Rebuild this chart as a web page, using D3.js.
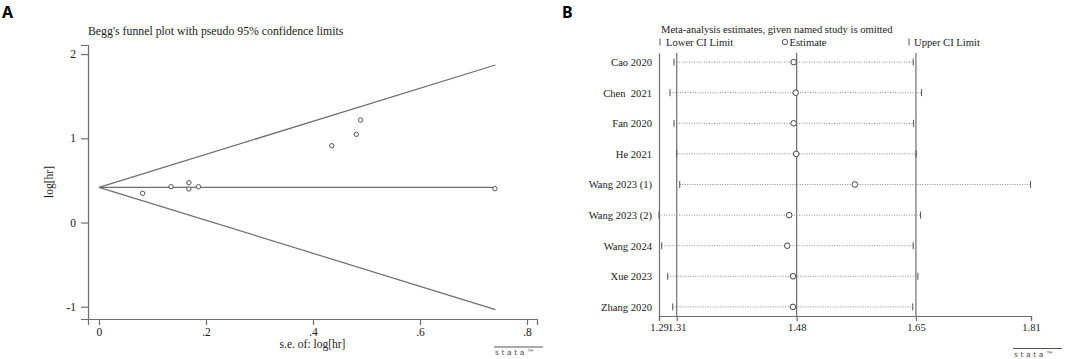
<!DOCTYPE html>
<html>
<head>
<meta charset="utf-8">
<script src="https://d3js.org/d3.v7.min.js"></script>
<style>
  body { margin: 0; background: #fff; }
  svg { display: block; }
  .serif { font-family: "Liberation Serif", "DejaVu Serif", serif; fill: #1a1a1a; }
</style>
</head>
<body>
<div id="chart"></div>
<script>
// ---- panel A: Begg's funnel plot ----
var seA     = [0.0815, 0.1346, 0.168, 0.168, 0.186, 0.435, 0.481, 0.489, 0.740];
var loghrA  = [0.347, 0.425, 0.473, 0.398, 0.425, 0.912, 1.047, 1.217, 0.401];
var funnelSe    = [0, 0.741];
var funnelUpper = [0.418, 1.870];
var funnelLower = [0.418, -1.034];
var funnelMid   = [0.418, 0.418];
var xTicksA = [0, 0.2, 0.4, 0.6, 0.8];
var xTickLabelsA = ["0", ".2", ".4", ".6", ".8"];
var yTicksA = [-1, 0, 1, 2];
var yTickLabelsA = ["-1", "0", "1", "2"];

// ---- panel B: leave-one-out sensitivity ----
var studies   = ["Cao 2020", "Chen  2021", "Fan 2020", "He 2021", "Wang 2023 (1)", "Wang 2023 (2)", "Wang 2024", "Xue 2023", "Zhang 2020"];
var estimates = [1.4784, 1.4812, 1.4784, 1.4820, 1.5641, 1.4722, 1.4694, 1.4774, 1.4774];
var lowerCI   = [1.3110, 1.3054, 1.3110, 1.3148, 1.3190, 1.2900, 1.2938, 1.3022, 1.3092];
var upperCI   = [1.6457, 1.6574, 1.6462, 1.6499, 1.8099, 1.6560, 1.6457, 1.6522, 1.6450];
var refLinesB = [1.3148, 1.4826, 1.6495];
var xTicksB = [1.29, 1.3148, 1.4826, 1.6495, 1.8105];
var xTickLabelsB = ["1.29", "1.31", "1.48", "1.65", "1.81"];

var W = 1065, H = 359;
var lineCol = "#6e6e6e";
var svg = d3.select("#chart").append("svg").attr("width", W).attr("height", H);

function styleAxis(g, size) {
  g.select(".domain").attr("stroke", lineCol).attr("stroke-width", 1.2);
  g.selectAll(".tick line").attr("stroke", lineCol).attr("stroke-width", 1.2);
  g.selectAll(".tick text").attr("class", "serif").attr("font-size", size).attr("fill", "#1a1a1a");
}

function stataLogo(x, y) {
  svg.append("line").attr("x1", x).attr("x2", x + 49).attr("y1", y).attr("y2", y)
    .attr("stroke", "#555").attr("stroke-width", 1);
  svg.append("text").attr("x", x + 1).attr("y", y + 8)
    .attr("font-family", "DejaVu Sans, sans-serif").attr("font-size", 7.5)
    .attr("letter-spacing", 2.6).attr("fill", "#555").text("stata\u2122");
}

// panel letters
svg.append("text").attr("x", 2).attr("y", 18).attr("font-family", "Noto Sans, sans-serif")
  .attr("font-weight", "bold").attr("font-size", 16).text("A");
svg.append("text").attr("x", 562).attr("y", 18).attr("font-family", "Noto Sans, sans-serif")
  .attr("font-weight", "bold").attr("font-size", 16).text("B");

// ================= panel A =================
var xA = d3.scaleLinear().domain([-0.02056, 0.8187]).range([88, 537]);
var yA = d3.scaleLinear().domain([-1.146, 2.108]).range([319, 45]);

svg.append("text").attr("class", "serif").attr("x", 88).attr("y", 34.5)
  .attr("font-size", 11.8).text("Begg's funnel plot with pseudo 95% confidence limits");

var gxA = svg.append("g").attr("transform", "translate(0,319)")
  .call(d3.axisBottom(xA).tickValues(xTicksA).tickSizeOuter(0).tickSize(6).tickPadding(3)
    .tickFormat(function(d, i) { return xTickLabelsA[i]; }));
styleAxis(gxA, 11.5);

var gyA = svg.append("g").attr("transform", "translate(88,0)")
  .call(d3.axisLeft(yA).tickValues(yTicksA).tickSizeOuter(0).tickSize(7).tickPadding(5)
    .tickFormat(function(d, i) { return yTickLabelsA[i]; }));
styleAxis(gyA, 11.5);

svg.append("text").attr("class", "serif").attr("font-size", 11.5)
  .attr("text-anchor", "middle").attr("transform", "translate(53,182) rotate(-90)").text("log[hr]");
svg.append("text").attr("class", "serif").attr("font-size", 11.5)
  .attr("text-anchor", "middle").attr("x", 312.5).attr("y", 347.5).text("s.e. of: log[hr]");

var lineA = d3.line().x(function(d) { return xA(d[0]); }).y(function(d) { return yA(d[1]); });
[funnelUpper, funnelLower, funnelMid].forEach(function(f) {
  svg.append("path").attr("d", lineA(d3.zip(funnelSe, f)))
    .attr("fill", "none").attr("stroke", lineCol).attr("stroke-width", 1.2);
});

svg.selectAll(".ptA").data(d3.zip(seA, loghrA)).enter().append("circle")
  .attr("cx", function(d) { return xA(d[0]); })
  .attr("cy", function(d) { return yA(d[1]); })
  .attr("r", 2.2).attr("fill", "#fff").attr("stroke", "#444").attr("stroke-width", 0.9);

stataLogo(494, 347);

// ================= panel B =================
var xB = d3.scaleLinear().domain([1.29, 1.8105]).range([659, 1031]);
var yB = d3.scalePoint().domain(studies).range([53, 316]).padding(0.2975);

svg.append("text").attr("class", "serif").attr("x", 661).attr("y", 32.5)
  .attr("font-size", 10.6).text("Meta-analysis estimates, given named study is omitted");

// legend
var legY = 45.5;
svg.append("line").attr("x1", 660).attr("x2", 660).attr("y1", legY - 7).attr("y2", legY)
  .attr("stroke", "#444").attr("stroke-width", 0.9);
svg.append("text").attr("class", "serif").attr("x", 666).attr("y", legY).attr("font-size", 10.6).text("Lower CI Limit");
svg.append("circle").attr("cx", 785).attr("cy", legY - 3.5).attr("r", 2.7)
  .attr("fill", "none").attr("stroke", "#444").attr("stroke-width", 0.9);
svg.append("text").attr("class", "serif").attr("x", 789.5).attr("y", legY).attr("font-size", 10.6).text("Estimate");
svg.append("line").attr("x1", 909).attr("x2", 909).attr("y1", legY - 7).attr("y2", legY)
  .attr("stroke", "#444").attr("stroke-width", 0.9);
svg.append("text").attr("class", "serif").attr("x", 914).attr("y", legY).attr("font-size", 10.6).text("Upper CI Limit");

// reference verticals
svg.selectAll(".refB").data(refLinesB).enter().append("line")
  .attr("x1", function(d) { return xB(d); }).attr("x2", function(d) { return xB(d); })
  .attr("y1", 53).attr("y2", 316).attr("stroke", lineCol).attr("stroke-width", 1.2);

var gxB = svg.append("g").attr("transform", "translate(0,316)")
  .call(d3.axisBottom(xB).tickValues(xTicksB).tickSizeOuter(0).tickSize(5).tickPadding(2.5)
    .tickFormat(function(d, i) { return xTickLabelsB[i]; }));
styleAxis(gxB, 10.6);

var gyB = svg.append("g").attr("transform", "translate(659,0)")
  .call(d3.axisLeft(yB).tickSize(0).tickPadding(7).tickSizeOuter(0));
gyB.select(".domain").attr("stroke", lineCol).attr("stroke-width", 1.2);
gyB.selectAll(".tick text").attr("class", "serif").attr("font-size", 10.6)
  .attr("fill", "#1a1a1a").style("white-space", "pre");

var rows = studies.map(function(s, i) {
  return { s: s, est: estimates[i], lo: lowerCI[i], hi: upperCI[i] };
});

svg.selectAll(".ciB").data(rows).enter().append("line")
  .attr("x1", function(d) { return xB(d.lo); }).attr("x2", function(d) { return xB(d.hi); })
  .attr("y1", function(d) { return yB(d.s); }).attr("y2", function(d) { return yB(d.s); })
  .attr("stroke", "#8a8a8a").attr("stroke-width", 1).attr("stroke-dasharray", "1,1.5");

["lo", "hi"].forEach(function(k) {
  svg.selectAll(".cap" + k).data(rows).enter().append("line")
    .attr("x1", function(d) { return xB(d[k]); }).attr("x2", function(d) { return xB(d[k]); })
    .attr("y1", function(d) { return yB(d.s) - 3.5; }).attr("y2", function(d) { return yB(d.s) + 3.5; })
    .attr("stroke", "#555").attr("stroke-width", 1);
});

svg.selectAll(".estB").data(rows).enter().append("circle")
  .attr("cx", function(d) { return xB(d.est); }).attr("cy", function(d) { return yB(d.s); })
  .attr("r", 2.8).attr("fill", "#fff").attr("stroke", "#444").attr("stroke-width", 1);

stataLogo(1013, 348.5);
</script>
</body>
</html>
